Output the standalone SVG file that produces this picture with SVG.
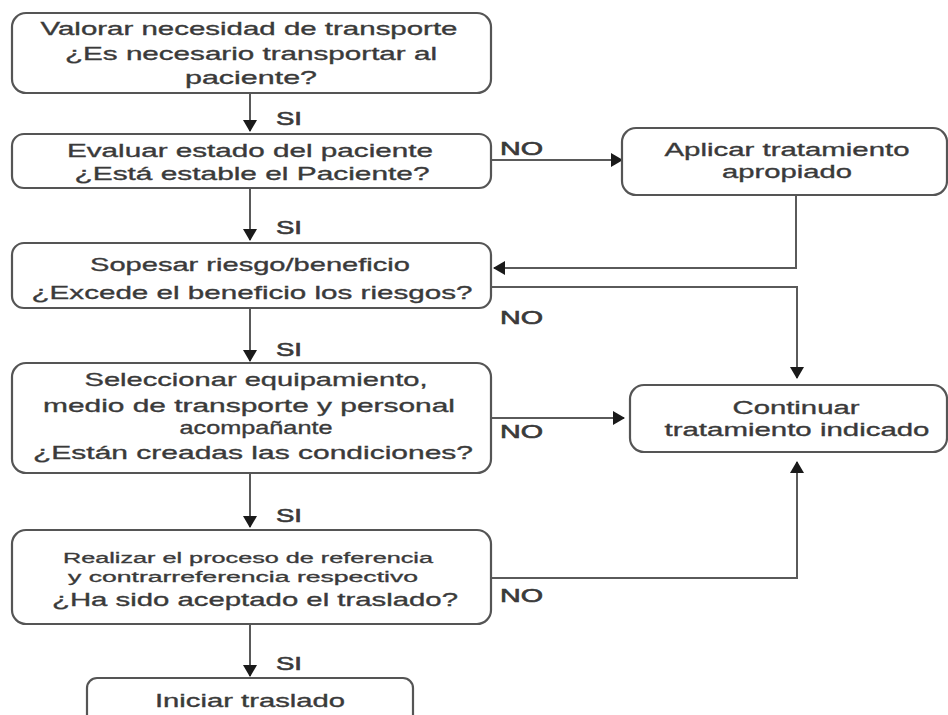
<svg xmlns="http://www.w3.org/2000/svg" width="948" height="715" viewBox="0 0 948 715">
  <defs>
    <marker id="ah" markerWidth="14" markerHeight="14" refX="11" refY="7" orient="auto" markerUnits="userSpaceOnUse">
      <path d="M0,0 L12,7 L0,14 Z" fill="#1a1a1a"/>
    </marker>
    <style>
      .box { fill: #ffffff; stroke: #555555; stroke-width: 2.2; }
      .t { font-family: "Liberation Sans", Arial, sans-serif; font-size: 19px; fill: #3a3a3a; stroke: #3a3a3a; stroke-width: 0.35; text-anchor: middle; }
      .ts { font-family: "Liberation Sans", Arial, sans-serif; font-size: 14px; fill: #3a3a3a; stroke: #3a3a3a; stroke-width: 0.3; text-anchor: middle; }
      .lbl { font-family: "Liberation Sans", Arial, sans-serif; font-size: 18px; fill: #3a3a3a; stroke: #3a3a3a; stroke-width: 0.6; }
      .ca { fill: none; stroke: #5a5a5a; stroke-width: 2; marker-end: url(#ah); }
    </style>
  </defs>
  <rect width="948" height="715" fill="#ffffff"/>

  <g id="connectors">
    <line class="ca" x1="250" y1="93" x2="250" y2="131"/>
    <line class="ca" x1="250" y1="188" x2="250" y2="240"/>
    <line class="ca" x1="250" y1="308" x2="250" y2="361"/>
    <line class="ca" x1="250" y1="473" x2="250" y2="527"/>
    <line class="ca" x1="250" y1="624" x2="250" y2="676"/>
    <line class="ca" x1="491" y1="160" x2="622" y2="160"/>
    <polyline class="ca" points="796,195 796,268 494,268"/>
    <polyline class="ca" points="491,287 797,287 797,378"/>
    <line class="ca" x1="491" y1="418" x2="624" y2="418"/>
    <polyline class="ca" points="491,578 797,578 797,462"/>
    <text class="lbl" x="276" y="125" textLength="26" lengthAdjust="spacingAndGlyphs">SI</text>
    <text class="lbl" x="276" y="234" textLength="26" lengthAdjust="spacingAndGlyphs">SI</text>
    <text class="lbl" x="276" y="356" textLength="26" lengthAdjust="spacingAndGlyphs">SI</text>
    <text class="lbl" x="276" y="522" textLength="26" lengthAdjust="spacingAndGlyphs">SI</text>
    <text class="lbl" x="276" y="670" textLength="26" lengthAdjust="spacingAndGlyphs">SI</text>
    <text class="lbl" x="500" y="155" textLength="43" lengthAdjust="spacingAndGlyphs">NO</text>
    <text class="lbl" x="500" y="324" textLength="43" lengthAdjust="spacingAndGlyphs">NO</text>
    <text class="lbl" x="500" y="438" textLength="43" lengthAdjust="spacingAndGlyphs">NO</text>
    <text class="lbl" x="500" y="602" textLength="43" lengthAdjust="spacingAndGlyphs">NO</text>
  </g>

  <g id="n1">
    <rect class="box" x="12" y="13" width="479" height="80" rx="14"/>
    <text class="t" x="249" y="35" textLength="417" lengthAdjust="spacingAndGlyphs">Valorar necesidad de transporte</text>
    <text class="t" x="251" y="60" textLength="372" lengthAdjust="spacingAndGlyphs">¿Es necesario transportar al</text>
    <text class="t" x="251" y="84" textLength="132" lengthAdjust="spacingAndGlyphs">paciente?</text>
  </g>

  <g id="n2">
    <rect class="box" x="12" y="134" width="479" height="54" rx="12"/>
    <text class="t" x="250" y="157" textLength="366" lengthAdjust="spacingAndGlyphs">Evaluar estado del paciente</text>
    <text class="t" x="252" y="180" textLength="355" lengthAdjust="spacingAndGlyphs">¿Está estable el Paciente?</text>
  </g>

  <g id="n3">
    <rect class="box" x="12" y="243" width="479" height="65" rx="12"/>
    <text class="t" x="250" y="271" textLength="320" lengthAdjust="spacingAndGlyphs">Sopesar riesgo/beneficio</text>
    <text class="t" x="252" y="299" textLength="441" lengthAdjust="spacingAndGlyphs">¿Excede el beneficio los riesgos?</text>
  </g>

  <g id="n4">
    <rect class="box" x="12" y="363" width="479" height="110" rx="14"/>
    <text class="t" x="256" y="386" textLength="343" lengthAdjust="spacingAndGlyphs">Seleccionar equipamiento,</text>
    <text class="t" x="249" y="412" textLength="412" lengthAdjust="spacingAndGlyphs">medio de transporte y personal</text>
    <text class="t" x="256" y="434" textLength="153" lengthAdjust="spacingAndGlyphs">acompañante</text>
    <text class="t" x="253" y="459" textLength="440" lengthAdjust="spacingAndGlyphs">¿Están creadas las condiciones?</text>
  </g>

  <g id="n5">
    <rect class="box" x="12" y="530" width="479" height="94" rx="14"/>
    <text class="ts" x="248" y="563" textLength="370" lengthAdjust="spacingAndGlyphs">Realizar el proceso de referencia</text>
    <text class="ts" x="243" y="582" textLength="350" lengthAdjust="spacingAndGlyphs">y contrarreferencia respectivo</text>
    <text class="t" x="255" y="606" textLength="406" lengthAdjust="spacingAndGlyphs">¿Ha sido aceptado el traslado?</text>
  </g>

  <g id="n6">
    <rect class="box" x="87" y="678" width="326" height="60" rx="10"/>
    <text class="t" x="250" y="707" textLength="190" lengthAdjust="spacingAndGlyphs">Iniciar traslado</text>
  </g>

  <g id="n7">
    <rect class="box" x="622" y="128" width="325" height="67" rx="14"/>
    <text class="t" x="787" y="156" textLength="245" lengthAdjust="spacingAndGlyphs">Aplicar tratamiento</text>
    <text class="t" x="787" y="178" textLength="130" lengthAdjust="spacingAndGlyphs">apropiado</text>
  </g>

  <g id="n8">
    <rect class="box" x="630" y="385" width="317" height="67" rx="14"/>
    <text class="t" x="796" y="414" textLength="127" lengthAdjust="spacingAndGlyphs">Continuar</text>
    <text class="t" x="797" y="436" textLength="265" lengthAdjust="spacingAndGlyphs">tratamiento indicado</text>
  </g>
</svg>
